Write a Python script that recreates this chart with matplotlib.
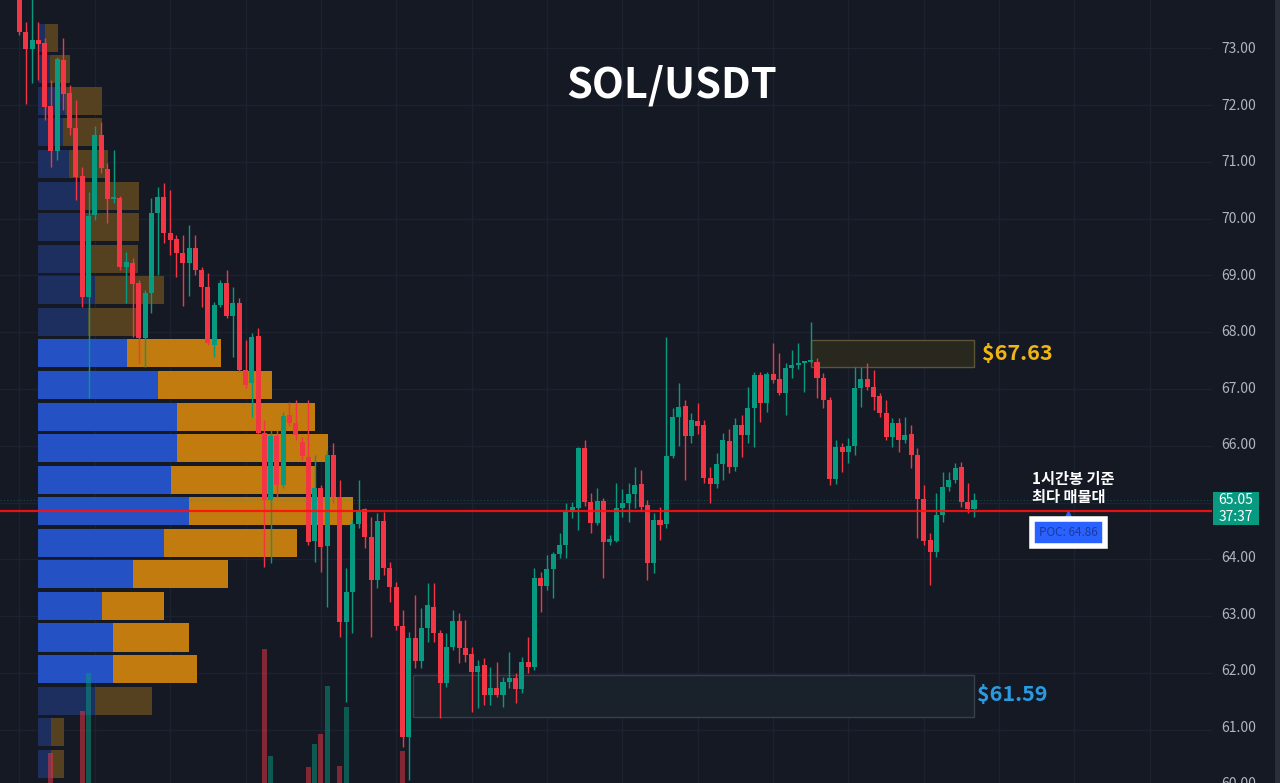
import numpy as np
import matplotlib
matplotlib.use('Agg')
import matplotlib.pyplot as plt
from matplotlib.patches import Rectangle

plt.rcParams['font.family'] = ['Noto Sans CJK KR', 'DejaVu Sans']

# 1h candles, SOL/USDT
opens = [73.95, 73.28, 72.98, 73.14, 73.09, 71.98, 71.19, 72.79, 72.21, 71.59,
         70.75, 68.62, 70.06, 71.47, 70.87, 70.34, 70.36, 69.15, 69.22, 68.87,
         67.90, 68.69, 70.10, 70.38, 69.74, 69.64, 69.39, 69.22, 69.48, 69.09,
         68.79, 67.77, 68.48, 68.86, 68.28, 68.51, 67.33, 67.11, 67.93, 66.23,
         65.05, 66.17, 65.31, 66.55, 66.40, 66.07, 65.80, 64.33, 65.26, 64.24,
         65.84, 65.10, 62.90, 63.43, 64.62, 64.89, 64.40, 63.64, 64.68, 63.85,
         63.52, 62.83, 60.88, 62.62, 62.21, 62.79, 63.16, 62.71, 61.83, 62.46,
         62.92, 62.44, 62.34, 62.02, 62.14, 61.62, 61.74, 61.62, 61.84, 61.91,
         61.72, 62.20, 62.11, 63.67, 63.53, 63.83, 64.10, 64.25, 64.84, 64.90,
         65.96, 65.01, 64.64, 65.03, 64.31, 64.33, 64.91, 65.00, 65.15, 65.33,
         64.96, 63.94, 64.69, 64.62, 65.82, 66.51, 66.70, 66.17, 66.43, 66.37,
         65.43, 65.33, 65.68, 66.08, 65.63, 66.37, 66.19, 66.67, 67.25, 66.75,
         67.26, 67.18, 66.93, 67.37, 67.42, 67.46, 67.48, 67.48, 67.19, 66.81,
         65.42, 65.98, 65.89, 66.00, 67.02, 67.18, 67.03, 66.88, 66.58, 66.16,
         66.40, 66.10, 66.21, 65.84, 65.06, 64.34, 64.13, 64.78, 65.28, 65.40,
         65.63, 65.01, 64.89]
highs = [74.10, 73.46, 73.90, 73.46, 73.18, 72.44, 72.84, 73.18, 72.35, 72.08,
         70.91, 70.47, 71.63, 71.70, 70.98, 71.20, 70.40, 69.41, 69.30, 68.92,
         68.74, 70.36, 70.55, 70.62, 70.50, 69.71, 69.71, 69.89, 69.71, 69.15,
         69.04, 68.53, 68.92, 69.09, 68.79, 68.60, 67.86, 67.98, 68.07, 66.45,
         66.28, 66.28, 66.60, 66.77, 66.81, 66.15, 66.81, 65.84, 65.31, 65.93,
         66.05, 65.40, 63.85, 64.69, 65.40, 64.91, 64.75, 64.82, 64.84, 63.96,
         63.60, 63.11, 62.72, 63.37, 63.15, 63.59, 63.59, 62.76, 62.71, 63.11,
         63.06, 62.93, 62.46, 62.23, 62.27, 62.11, 62.20, 61.93, 62.37, 62.00,
         62.28, 62.64, 63.85, 63.78, 64.08, 64.13, 64.47, 65.00, 65.01, 65.98,
         66.10, 65.17, 65.26, 65.08, 64.43, 65.35, 65.24, 65.35, 65.63, 65.58,
         65.05, 64.82, 64.92, 67.91, 66.67, 67.11, 66.81, 66.58, 66.75, 66.45,
         65.63, 65.87, 66.22, 66.29, 66.49, 66.54, 67.03, 67.30, 67.30, 67.30,
         67.81, 67.63, 67.46, 67.69, 67.81, 67.50, 68.18, 67.55, 67.28, 66.86,
         66.10, 66.05, 66.14, 67.39, 67.39, 67.46, 67.33, 66.93, 66.81, 66.49,
         66.49, 66.51, 66.37, 65.96, 65.31, 64.47, 65.17, 65.54, 65.54, 65.70,
         65.72, 65.35, 65.17]
lows = [73.23, 72.01, 72.38, 72.44, 71.73, 70.91, 71.03, 71.91, 71.47, 70.33,
        68.44, 66.84, 69.97, 70.80, 69.92, 70.27, 69.10, 68.51, 67.92, 67.46,
        67.39, 68.34, 69.00, 69.57, 69.36, 68.97, 68.46, 68.64, 69.00, 68.44,
        67.77, 67.56, 68.44, 68.25, 67.56, 67.30, 67.02, 66.51, 66.20, 63.87,
        63.94, 65.10, 65.25, 66.35, 66.10, 65.75, 64.26, 63.96, 63.78, 63.16,
        65.00, 62.64, 61.50, 62.71, 64.55, 64.20, 62.64, 63.50, 63.73, 63.25,
        62.76, 60.70, 60.12, 62.09, 62.09, 62.55, 62.55, 61.21, 61.76, 62.41,
        62.18, 62.20, 61.32, 61.39, 61.44, 61.44, 61.58, 61.41, 61.74, 61.47,
        61.65, 62.00, 62.06, 63.08, 63.46, 63.32, 64.03, 64.03, 64.73, 64.52,
        64.95, 64.47, 64.60, 63.67, 64.25, 64.31, 64.75, 64.66, 64.90, 64.85,
        63.64, 63.76, 64.34, 64.55, 65.79, 66.00, 65.40, 66.05, 66.20, 65.35,
        64.99, 65.26, 65.40, 65.52, 65.55, 65.80, 66.05, 65.98, 66.42, 66.60,
        67.10, 66.90, 66.54, 67.19, 67.35, 66.95, 67.45, 66.84, 66.67, 65.31,
        65.33, 65.54, 65.70, 65.84, 66.68, 66.98, 66.63, 66.50, 66.10, 65.98,
        65.89, 66.05, 65.61, 64.38, 64.26, 63.55, 64.05, 64.66, 65.20, 65.35,
        64.92, 64.82, 64.75]
closes = [73.28, 72.98, 73.14, 73.07, 71.96, 71.19, 72.81, 72.19, 71.59, 70.73,
          68.62, 70.04, 71.47, 70.89, 70.34, 70.36, 69.15, 69.23, 68.85, 67.90,
          68.69, 70.10, 70.38, 69.74, 69.62, 69.39, 69.22, 69.48, 69.09, 68.79,
          67.81, 68.48, 68.86, 68.28, 68.51, 67.33, 67.07, 67.91, 66.23, 65.05,
          66.17, 65.31, 66.53, 66.40, 66.19, 65.82, 64.31, 65.26, 64.22, 65.84,
          65.10, 62.90, 63.43, 64.62, 64.87, 64.40, 63.64, 64.68, 63.85, 63.52,
          62.83, 60.88, 62.62, 62.21, 62.79, 63.20, 62.71, 61.83, 62.46, 62.92,
          62.44, 62.32, 62.02, 62.13, 61.62, 61.74, 61.62, 61.84, 61.91, 61.72,
          62.20, 62.11, 63.67, 63.53, 63.83, 64.10, 64.25, 64.84, 64.92, 65.96,
          65.01, 64.64, 65.03, 64.31, 64.36, 64.91, 65.00, 65.15, 65.31, 64.92,
          63.94, 64.69, 64.61, 65.82, 66.51, 66.68, 66.17, 66.45, 66.35, 65.43,
          65.33, 65.68, 66.10, 65.63, 66.37, 66.19, 66.67, 67.25, 66.75, 67.26,
          67.16, 66.93, 67.37, 67.42, 67.46, 67.48, 67.50, 67.19, 66.81, 65.42,
          65.98, 65.89, 66.00, 67.02, 67.18, 67.03, 66.86, 66.58, 66.16, 66.40,
          66.10, 66.19, 65.84, 65.06, 64.33, 64.13, 64.78, 65.28, 65.40, 65.61,
          65.01, 64.89, 65.05]

# volume bars that reach into the visible area (bar index, volume)
vol_idx = [5, 10, 11, 39, 40, 46, 47, 48, 49, 51, 52, 61]
vol_val = [30, 72, 110, 134, 27, 16, 39, 49, 97, 17, 76, 32]

# volume profile rows (bin centre price, up volume, down volume)
vp_price = [73.18, 72.63, 72.07, 71.52, 70.96, 70.40, 69.85, 69.29, 68.74, 68.18,
            67.63, 67.07, 66.51, 65.96, 65.40, 64.85, 64.29, 63.74, 63.18, 62.63,
            62.07, 61.51, 60.96, 60.40]
vp_up = [7, 12, 27, 25, 31, 44, 46, 50, 57, 50,
         89, 120, 139, 139, 133, 151, 126, 95, 64, 75,
         75, 57, 13, 13]
vp_down = [13, 20, 37, 39, 39, 57, 55, 50, 69, 52,
           94, 114, 138, 151, 144, 164, 133, 95, 62, 76,
           84, 57, 13, 13]
va_rows = range(10, 21)  # value area

poc = 64.86
last_price = 65.05
countdown = '37:37'
resist = 67.63
support = 61.59

bg = '#151924'
green = '#089981'
red = '#f23645'

W, H = 1280, 783
fig = plt.figure(figsize=(W / 100, H / 100), dpi=100, facecolor=bg)
rect = [0, 0, 1212 / W, 1]
ylo, yhi = 60.067, 73.845
xlo, xhi = -3.1, 189.9

ax_bg = fig.add_axes(rect, facecolor=bg)
ax_prof = fig.add_axes(rect, facecolor='none')
ax_vol = fig.add_axes(rect, facecolor='none')
ax = fig.add_axes(rect, facecolor='none')
for a in (ax_bg, ax_prof, ax_vol, ax):
    for s in a.spines.values():
        s.set_visible(False)
    a.set_xticks([])
    a.set_yticks([])

# grid
ax_bg.set_xlim(xlo, xhi)
ax_bg.set_ylim(ylo, yhi)
for p in range(60, 74):
    ax_bg.axhline(p, color='#1d2230', lw=1)
for i in range(0, 190, 12):
    ax_bg.axvline(i, color='#1d2230', lw=1)

# volume profile (x in pixels from its left edge)
ax_prof.set_xlim(-38, 1212 - 38)
ax_prof.set_ylim(ylo, yhi)
up_c = ['#2451c4' if k in va_rows else '#1d2f5f' for k in range(len(vp_price))]
dn_c = ['#c27b0e' if k in va_rows else '#55401f' for k in range(len(vp_price))]
ax_prof.barh(vp_price, vp_up, height=0.50, color=up_c)
ax_prof.barh(vp_price, vp_down, left=vp_up, height=0.50, color=dn_c)

# volume (scale: bars start below the visible area)
ax_vol.set_xlim(xlo, xhi)
ax_vol.set_ylim(0, H)
vcol = [green if closes[i] >= opens[i] else red for i in vol_idx]
ax_vol.bar(vol_idx, vol_val, width=0.8, color=vcol, alpha=0.5)

# candles
ax.set_xlim(xlo, xhi)
ax.set_ylim(ylo, yhi)
o = np.array(opens)
c = np.array(closes)
x = np.arange(len(o))
cols = np.where(c >= o, green, red)
ax.vlines(x, lows, highs, colors=cols, lw=1, zorder=3)
body = np.maximum(np.abs(c - o), 0.03)
ax.bar(x, body, bottom=np.minimum(o, c), width=0.8, color=cols, zorder=4)

# zones
ax.add_patch(Rectangle((126, 67.39), 26, 0.47, fc='#28281f', ec='#5b5538',
                       lw=1, zorder=2))
ax.add_patch(Rectangle((62.6, 61.23), 89.4, 0.74, fc='#19212b', ec='#373f4c',
                       lw=1, zorder=2))
ax.text(153.3, resist, f'${resist:.2f}', color='#f0b515', fontsize=15.5,
        fontweight='bold', va='center', ha='left')
ax.text(152.5, support + 0.03, f'${support:.2f}', color='#2a9be0', fontsize=15.5,
        fontweight='bold', va='center', ha='left')

# POC and last price lines
ax.axhline(last_price, color=green, lw=0.8, ls=(0, (1, 2)), alpha=0.4, zorder=1)
ax.axhline(poc, color='#ff1010', lw=1.6, alpha=0.9, zorder=5)

ax.text(161.2, 65.26, '1시간봉 기준\n최다 매물대', color='white', fontsize=11,
        fontweight='bold', ha='left', va='center', linespacing=1.15, zorder=6)
ax.plot(167.0, poc - 0.08, marker='^', ms=6, color='#2962ff', zorder=6)
ax.text(167.0, 64.475, f'POC: {poc:.2f}', color='#1c3aa0', fontsize=8.5,
        ha='center', va='center', zorder=7,
        bbox=dict(boxstyle='square,pad=0.6', fc='#2962ff', ec='white', lw=4))

# right price scale (65.00 sits under the last-price tag)
axr = ax.twinx()
axr.set_ylim(ylo, yhi)
for s in axr.spines.values():
    s.set_visible(False)
ticks = [t for t in range(60, 74) if t != 65]
axr.set_yticks(ticks)
axr.set_yticklabels([f'{t:.2f}' for t in ticks])
axr.tick_params(axis='y', length=0, pad=7, labelcolor='#b2b5be', labelsize=10)

fig.patches.append(Rectangle((1213 / W, 1 - 525 / H), 46 / W, 33 / H,
                             transform=fig.transFigure, fc=green, ec='none'))
fig.text(1236 / W, 1 - 500 / H, f'{last_price:.2f}', color='white', fontsize=10,
         ha='center', va='center')
fig.text(1236 / W, 1 - 517 / H, countdown, color='white', fontsize=10,
         ha='center', va='center')
fig.patches.append(Rectangle((1275 / W, 0), 5 / W, 1, transform=fig.transFigure,
                             fc='#2a2e39', ec='none'))

fig.text(672 / W, 1 - 85 / H, 'SOL/USDT', color='white', fontsize=30,
         fontweight='bold', ha='center', va='center')

fig.savefig('out.png', dpi=100, facecolor=bg)
plt.close(fig)
